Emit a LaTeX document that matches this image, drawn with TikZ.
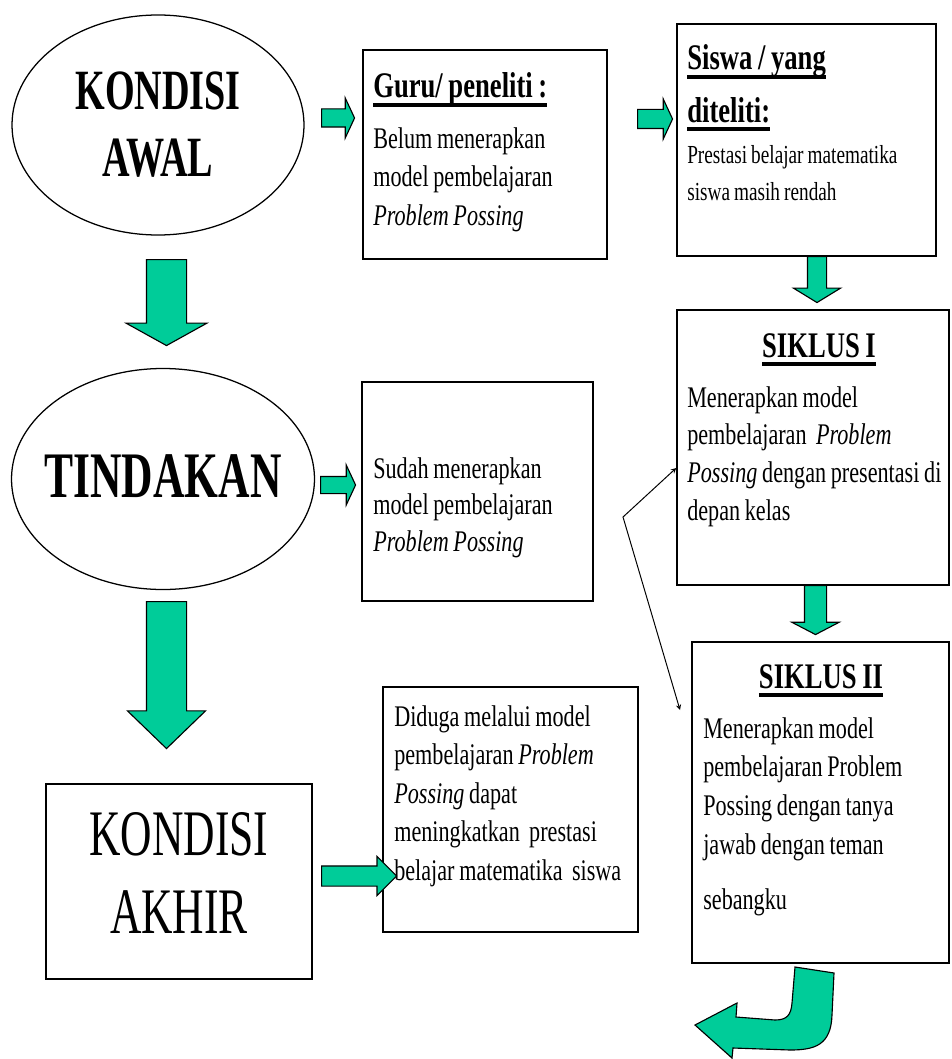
\documentclass[tikz,border=0pt]{standalone}
\usepackage{fontspec}
\setmainfont[FakeStretch=0.74,WordSpace=0.85]{Liberation Serif}
\newfontfamily\bigfamily[FakeStretch=0.67]{Liberation Serif}
\usepackage{tikz}
\usetikzlibrary{calc}
\usetikzlibrary{arrows,shapes,positioning}
\tikzset{>=stealth}
\definecolor{arrowgreen}{RGB}{0,204,153}
\newcommand{\bodyfont}{\fontsize{21.3pt}{27.4pt}\selectfont}
\newcommand{\headfont}{\fontsize{25.6pt}{30pt}\selectfont\bfseries}
\newcommand{\headline}[1]{\leavevmode\setbox0=\hbox{#1}\rlap{\rule[-6.6pt]{\wd0}{3.3pt}}\box0}
\tikzset{
	box/.style={draw,line width=1.1pt,inner sep=0},
	ell/.style={ellipse,draw,line width=0.9pt,align=center,inner sep=0},
	txt/.style={anchor=base west,inner sep=0,text width=7cm,align=flush left,font=\bodyfont},
	head/.style={anchor=base,inner sep=0,font=\headfont},
	bigarrow/.style={single arrow,draw,fill=arrowgreen,line width=0.8pt,inner xsep=0,single arrow head indent=0,anchor=tail}
}

\begin{document}
\begin{tikzpicture}
				\useasboundingbox (0,0) rectangle (23.775,-26.475);

				\draw (3.95,-3.125) node (awal) [ell,minimum width=7.3cm,minimum height=5.5cm,font={\bigfamily\bfseries\fontsize{40.5pt}{47.7pt}\selectfont}] {KONDISI\\AWAL};
				\draw (4.075,-11.975) node (tindakan) [ell,minimum width=7.575cm,minimum height=5.525cm] {};
				\draw (4.075,-11.9) node (tindakantxt) [inner sep=0,font={\bigfamily\bfseries\fontsize{46.2pt}{50pt}\selectfont}] {TINDAKAN};
				\draw (4.475,-22.0375) node (akhir) [box,minimum width=6.65cm,minimum height=4.875cm] {};
				\draw (4.475,-21.825) node (akhirtxt) [align=center,inner sep=0,font={\bigfamily\fontsize{46.2pt}{54.8pt}\selectfont}] {KONDISI\\AKHIR};

				\draw (12.125,-3.8625) node (guru) [box,minimum width=6.1cm,minimum height=5.225cm] {};
				\draw (9.325,-2.45) node (gurutxt) [txt] {{\headfont\headline{Guru/ peneliti :}}\\[8.2pt] Belum menerapkan\\ model pembelajaran\\ \textit{Problem Possing}};

				\draw (20.1625,-3.5) node (siswa) [box,minimum width=6.475cm,minimum height=5.8cm] {};
				\draw (17.175,-1.75) node (siswatxt) [txt,font={\fontsize{18.5pt}{26.3pt}\selectfont}] {{\headfont\headline{Siswa / yang}}\\[10.7pt] {\headfont\headline{diteliti:}}\\[2.9pt] Prestasi belajar matematika\\ siswa masih rendah};

				\draw (20.325,-11.1875) node (siklus1) [box,minimum width=6.8cm,minimum height=6.875cm] {};
				\draw (20.475,-8.925) node (s1head) [head] {\headline{SIKLUS I}};
				\draw (17.175,-10.175) node (s1txt) [txt,font={\fontsize{21.3pt}{26.8pt}\selectfont}] {Menerapkan model\\ pembelajaran~ \textit{Problem}\\ \textit{Possing} dengan presentasi di\\ depan kelas};

				\draw (20.5125,-20.0625) node (siklus2) [box,minimum width=6.425cm,minimum height=8.025cm] {};
				\draw (20.525,-17.2) node (s2head) [head] {\headline{SIKLUS II}};
				\draw (17.575,-18.45) node (s2txt) [txt,font={\fontsize{21.3pt}{27.7pt}\selectfont}] {Menerapkan model\\ pembelajaran Problem\\ Possing dengan tanya\\ jawab dengan teman\\[11.4pt] sebangku};

				\draw (11.9375,-12.2875) node (sudah) [box,minimum width=5.775cm,minimum height=5.475cm] {};
				\draw (9.325,-11.95) node (sudahtxt) [txt,font={\fontsize{21.3pt}{26.3pt}\selectfont}] {Sudah menerapkan\\ model pembelajaran\\ \textit{Problem Possing}};

				\draw (12.7625,-20.2375) node (diduga) [box,minimum width=6.375cm,minimum height=6.125cm] {};
				\draw (9.85,-18.15) node (didugatxt) [txt] {Diduga melalui model\\ pembelajaran \textit{Problem}\\ \textit{Possing} dapat\\ meningkatkan~ prestasi\\ belajar matematika~ siswa};

				\draw (8.025,-2.95) node (a1) [bigarrow,minimum height=0.825cm,minimum width=0.975cm,inner ysep=0.2125cm,single arrow head extend=0.275cm,single arrow tip angle=130] {};
				\draw (15.925,-2.975) node (a2) [bigarrow,minimum height=0.875cm,minimum width=0.975cm,inner ysep=0.225cm,single arrow head extend=0.2625cm,single arrow tip angle=130] {};
				\draw (4.1625,-6.475) node (a3) [bigarrow,rotate=-90,minimum height=2.15cm,minimum width=2cm,inner ysep=0.4875cm,single arrow head extend=0.5125cm,single arrow tip angle=122] {};
				\draw (8,-12.125) node (a4) [bigarrow,minimum height=0.875cm,minimum width=0.975cm,inner ysep=0.2cm,single arrow head extend=0.2875cm,single arrow tip angle=130] {};
				\draw (4.1625,-15.025) node (a5) [bigarrow,rotate=-90,minimum height=3.675cm,minimum width=1.925cm,inner ysep=0.4875cm,single arrow head extend=0.475cm,single arrow tip angle=92] {};
				\draw (8.025,-21.9) node (a6) [bigarrow,minimum height=1.875cm,minimum width=0.95cm,inner ysep=0.2375cm,single arrow head extend=0.2375cm,single arrow tip angle=90] {};
				\draw (20.425,-6.4) node (a7) [bigarrow,rotate=-90,minimum height=1.15cm,minimum width=1.15cm,inner ysep=0.225cm,single arrow head extend=0.35cm,single arrow tip angle=117] {};
				\draw (20.3875,-14.625) node (a8) [bigarrow,rotate=-90,minimum height=1.225cm,minimum width=1.15cm,inner ysep=0.2625cm,single arrow head extend=0.3125cm,single arrow tip angle=125] {};

				\coordinate (s1tip) at ($(siklus1.west)+(0,-0.5125)$);
				\coordinate (bend) at (15.575,-12.925);
				\coordinate (s2tip) at (17,-17.75);
				\draw [<->,line width=0.7pt] (s1tip) -- (bend) -- (s2tip);

				\draw [fill=arrowgreen,line width=0.8pt] (19.875,-24.175) -- (20.85,-24.325) -- (20.8,-25.375) .. controls (20.775,-26.125) and (20.375,-26.25) .. (19.75,-26.25) -- (18.325,-26.2) -- (18.3,-26.45) -- (17.375,-25.625) -- (18.425,-25.075) -- (18.4,-25.425) -- (19.375,-25.5) .. controls (19.675,-25.5) and (19.775,-25.375) .. (19.8,-25.075) -- cycle;
			\end{tikzpicture}
\end{document}
